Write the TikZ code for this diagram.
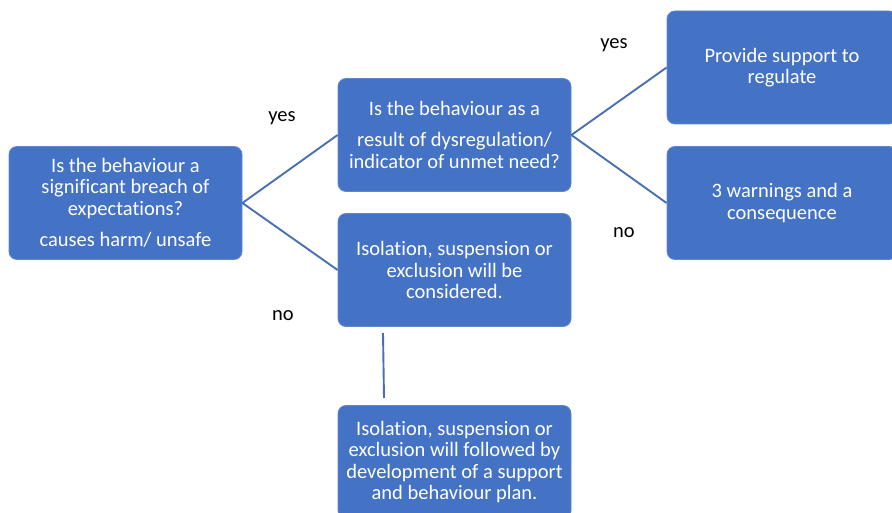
\documentclass[tikz,border=0pt]{standalone}
\usepackage{fontspec}
\setmainfont{Carlito}[Ligatures=NoCommon]
\definecolor{boxblue}{HTML}{4472C4}
\definecolor{lineblue}{HTML}{4A6FB3}
\tikzset{
  stepbox/.style={rectangle, rounded corners=8pt, fill=boxblue, draw=boxblue!85!white,
    line width=0.8pt, text=white, align=center, minimum width=233pt, minimum height=113pt,
    inner sep=2pt, font=\fontsize{20.5}{21.5}\selectfont},
  link/.style={draw=lineblue, line width=1.9pt},
  answer/.style={font=\fontsize{20.5}{21.5}\selectfont, text=black}
}
\begin{document}
\begin{tikzpicture}[x=1pt,y=-1pt]
		\useasboundingbox (0,0) rectangle (892,513);
		\clip (0,0) rectangle (892,513);

		\node[stepbox] (breach) at (125.5,203) {Is the behaviour a\\ significant breach of\\ expectations?\\[10pt] causes harm/ unsafe};
		\node[stepbox] (dysreg) at (454.5,135) {Is the behaviour as a\\[9.5pt] result of dysregulation/\\ indicator of unmet need?};
		\node[stepbox] (consider) at (454.5,270) {Isolation, suspension or\\ exclusion will be\\ considered.};
		\node[stepbox] (plan) at (454.5,462) {Isolation, suspension or\\ exclusion will followed by\\ development of a support\\ and behaviour plan.};
		\node[stepbox, minimum width=230pt] (support) at (782,67.5) {Provide support to\\ regulate};
		\node[stepbox, minimum width=230pt] (warnings) at (782,203) {3 warnings and a\\ consequence};

		\draw[link] (breach.east) -- (dysreg.west);
		\draw[link] (breach.east) -- (consider.west);
		\draw[link] (dysreg.east) -- (support.west);
		\draw[link] (dysreg.east) -- (warnings.west);

		\coordinate (gaptop) at (383,333);
		\coordinate (gapbottom) at (384,398);
		\draw[link] (gaptop) -- (gapbottom);

		\node[answer] (yesleft) at (282,118) {yes};
		\node[answer] (noleft) at (283,316) {no};
		\node[answer] (yesright) at (614,45) {yes};
		\node[answer] (noright) at (624,233) {no};
	\end{tikzpicture}
\end{document}
